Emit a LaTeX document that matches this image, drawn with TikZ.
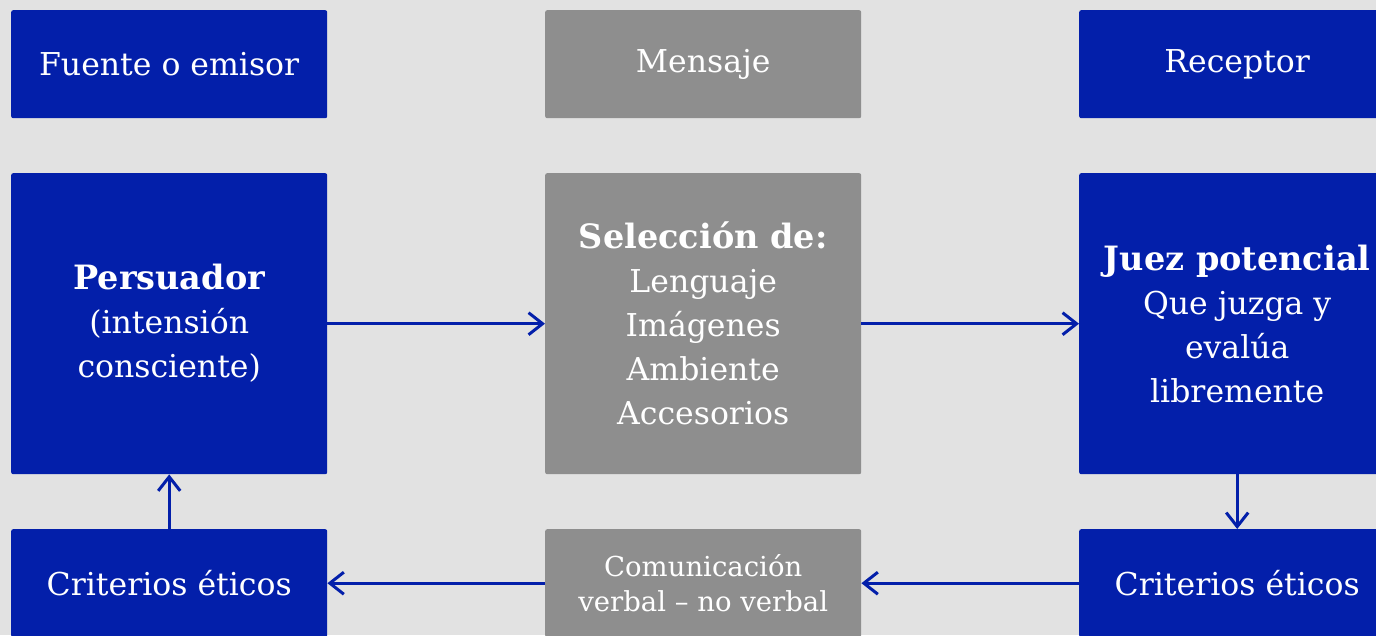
\documentclass[tikz,border=0pt]{standalone}
\usepackage{fontspec}
\setmainfont{DejaVu Serif}
\usetikzlibrary{arrows.meta}
\definecolor{boxblue}{RGB}{3,31,170}
\definecolor{boxgray}{RGB}{142,142,142}
\definecolor{bgc}{RGB}{226,226,226}
\newcommand{\bigbold}[1]{{\fontsize{33.5}{44}\selectfont\bfseries #1}}
\begin{document}
\begin{tikzpicture}[x=1pt,y=-1pt,
 box/.style={rounded corners=2pt, inner sep=0pt, text=white, align=center,
   font=\fontsize{31.5}{44}\selectfont, anchor=north west, minimum width=316pt},
 bluebox/.style={box, fill=boxblue},
 graybox/.style={box, fill=boxgray},
 conn/.style={draw=boxblue, line width=3pt,
   -{Straight Barb[length=14pt,width=22pt,line width=3pt]}}
]
\useasboundingbox (0,0) rectangle (1376,635);
\clip (0,0) rectangle (1376,635);
\fill[bgc] (0,0) rectangle (1376,635);

\node[bluebox, minimum height=108pt] (fuente) at (11,10) {Fuente o emisor};
\node[graybox, minimum height=108pt] (mensaje) at (545,10) {Mensaje};
\node[bluebox, minimum height=108pt] (receptor) at (1079,10) {Receptor};

\node[bluebox, minimum height=301pt] (persuador) at (11,173)
  {\bigbold{Persuador}\\(intensión\\consciente)};
\node[graybox, minimum height=301pt] (seleccion) at (545,173)
  {\bigbold{Selección de:}\\Lenguaje\\Imágenes\\Ambiente\\Accesorios};
\node[bluebox, minimum height=301pt] (juez) at (1079,173)
  {\bigbold{Juez potencial}\\Que juzga y\\evalúa\\libremente};

\node[bluebox, minimum height=108pt] (crit1) at (11,529) {Criterios éticos};
\node[graybox, minimum height=108pt, font=\fontsize{27.5}{35}\selectfont] (comun) at (545,529)
  {Comunicación\\verbal – no verbal};
\node[bluebox, minimum height=108pt] (crit2) at (1079,529) {Criterios éticos};

\draw[conn] (persuador) -- (seleccion);
\draw[conn] (seleccion) -- (juez);
\draw[conn] (juez) -- (crit2);
\draw[conn] (crit2) -- (comun);
\draw[conn] (comun) -- (crit1);
\draw[conn] (crit1) -- (persuador);
\end{tikzpicture}
\end{document}
